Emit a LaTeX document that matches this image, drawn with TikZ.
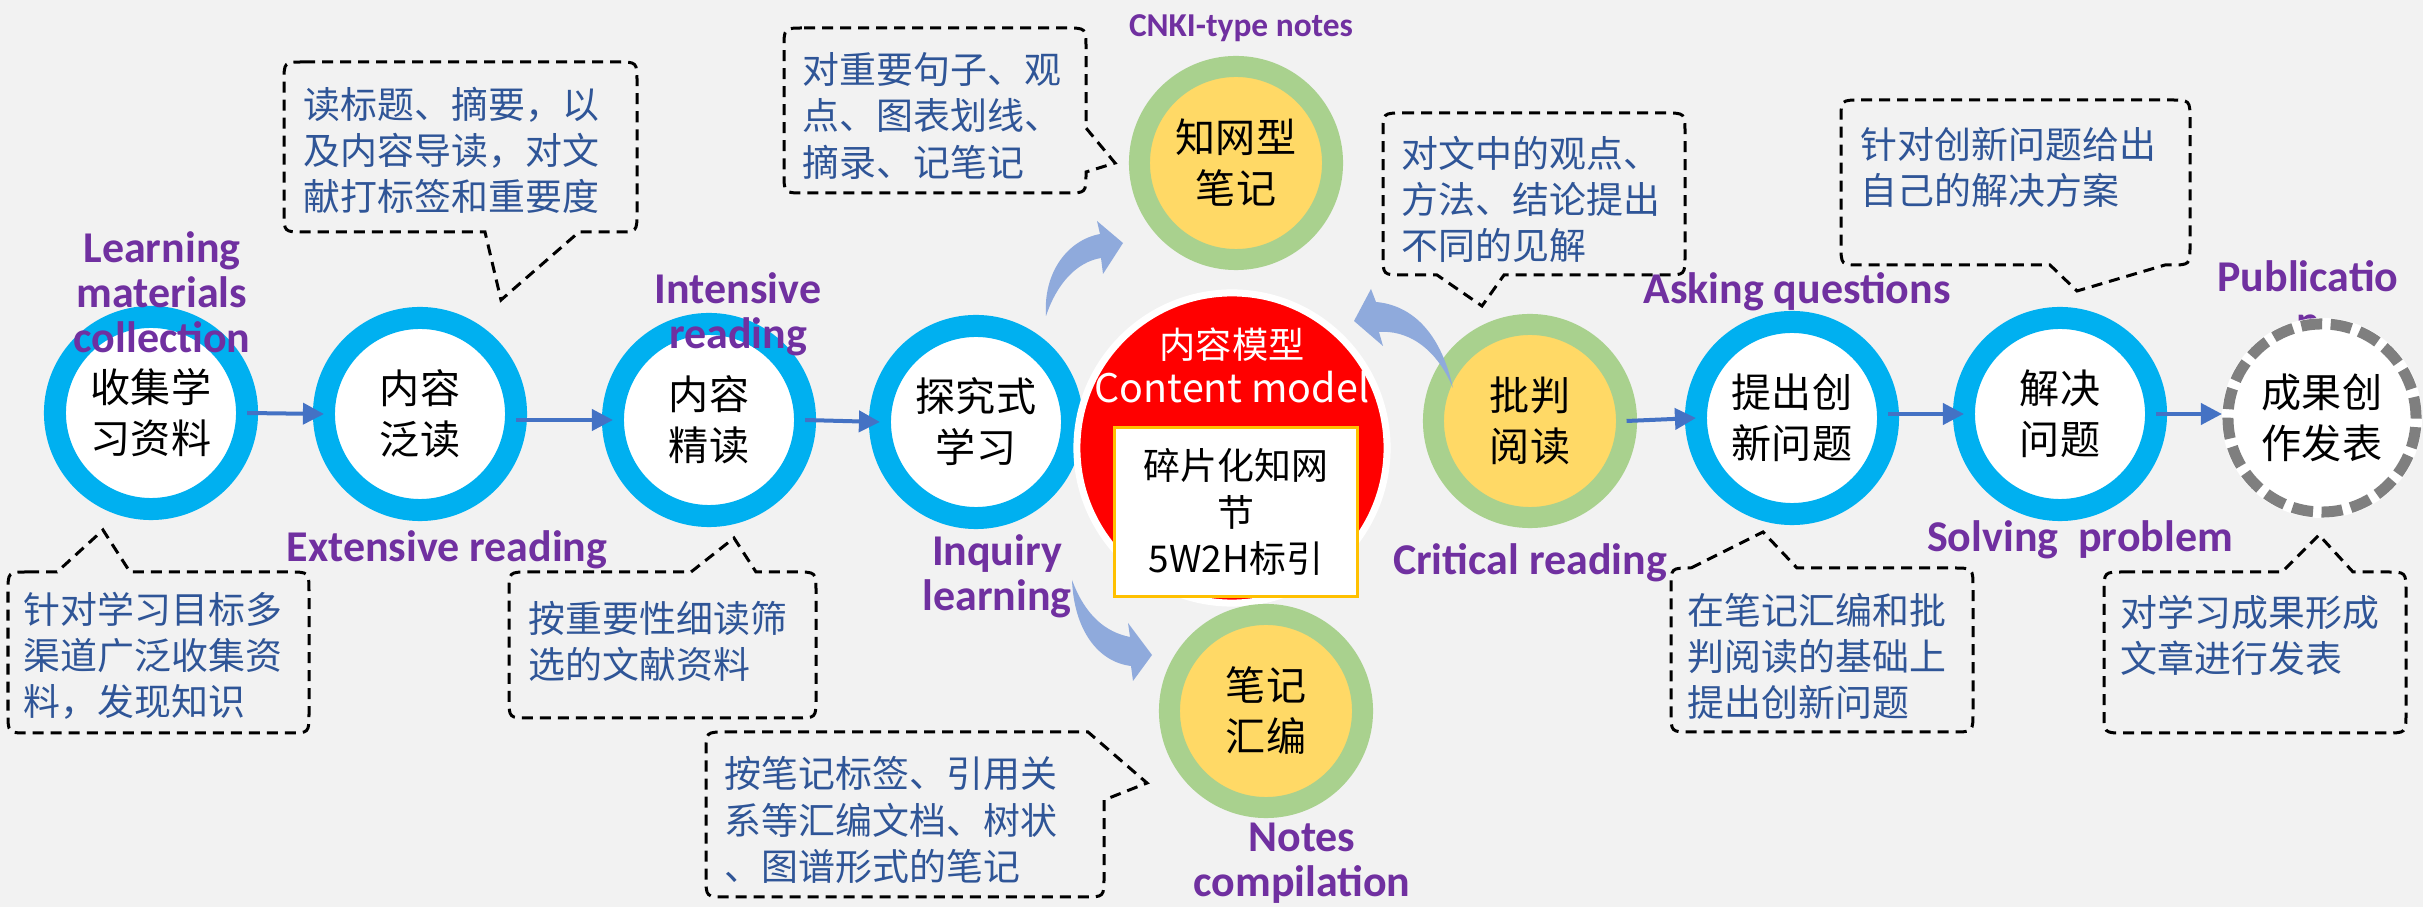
\documentclass[tikz,border=0pt]{standalone}
\usepackage{fontspec}
\setmainfont{Noto Sans CJK SC}
\newfontfamily\labfamily{Carlito}
\usetikzlibrary{arrows.meta}
\definecolor{bg}{HTML}{F2F2F2}
\definecolor{ringblue}{HTML}{00B0F0}
\definecolor{ringgreen}{HTML}{A9D18E}
\definecolor{fillyellow}{HTML}{FFD966}
\definecolor{labpurple}{HTML}{7030A0}
\definecolor{txtblue}{HTML}{2F5597}
\definecolor{arrowblue}{HTML}{4472C4}
\definecolor{curvblue}{HTML}{8FAADC}
\definecolor{boxorange}{HTML}{FFC000}
\definecolor{ringgray}{HTML}{7F7F7F}
\newcommand\circtxt{\fontsize{11.4}{14.5}\selectfont}
\newcommand\calltxt{\fontsize{10.5}{13.1}\selectfont}
\newcommand\labtxt{\labfamily\bfseries\fontsize{12.5}{12.8}\selectfont}
\begin{document}
\begin{tikzpicture}[x=0.01cm,y=-0.01cm,
  ring/.style={circle, draw=ringblue, line width=0.22cm, fill=white, minimum size=1.92cm, inner sep=0pt, outer sep=0pt, font=\circtxt, align=center},
  notering/.style={circle, draw=ringgreen, line width=0.21cm, fill=fillyellow, minimum size=1.93cm, inner sep=0pt, outer sep=0pt, font=\circtxt, align=center},
  flow/.style={draw=arrowblue, line width=0.04cm, -{Triangle[length=0.21cm,width=0.21cm]}},
  callout/.style={draw=black, line width=0.03cm, dash pattern=on 0.11cm off 0.07cm},
  ctext/.style={anchor=west, align=left, text=txtblue, font=\calltxt, inner sep=0pt},
  plab/.style={text=labpurple, font=\labtxt, align=center, inner sep=0pt},
  curvearrow/.style={fill=curvblue, draw=none}]
\fill[bg] (0,0) rectangle (2423,907);
\useasboundingbox (0,0) rectangle (2423,907);

% callout outlines
\draw[callout] (304,62) -- (617,62) .. controls (637,62) .. (637,82) -- (637,212) .. controls (637,232) .. (617,232) -- (579,232) -- (501,300) -- (485,232) -- (304,232) .. controls (284,232) .. (284,212) -- (284,82) .. controls (284,62) .. (304,62) -- cycle;
\draw[callout] (804,28) -- (1066,28) .. controls (1086,28) .. (1086,48) -- (1086,128) -- (1115,163) -- (1086,172) -- (1086,173) .. controls (1086,193) .. (1066,193) -- (804,193) .. controls (784,193) .. (784,173) -- (784,48) .. controls (784,28) .. (804,28) -- cycle;
\draw[callout] (1403,113) -- (1665,113) .. controls (1685,113) .. (1685,133) -- (1685,255) .. controls (1685,275) .. (1665,275) -- (1504,275) -- (1482,306) -- (1437,275) -- (1403,275) .. controls (1383,275) .. (1383,255) -- (1383,133) .. controls (1383,113) .. (1403,113) -- cycle;
\draw[callout] (1861,100) -- (2170,100) .. controls (2190,100) .. (2190,120) -- (2190,245) .. controls (2190,265) .. (2170,265) -- (2165,265) -- (2077,291) -- (2050,265) -- (1861,265) .. controls (1841,265) .. (1841,245) -- (1841,120) .. controls (1841,100) .. (1861,100) -- cycle;
\draw[callout] (28,572) -- (57,572) -- (103,530) -- (130,572) -- (289,572) .. controls (309,572) .. (309,592) -- (309,713) .. controls (309,733) .. (289,733) -- (28,733) .. controls (8,733) .. (8,713) -- (8,592) .. controls (8,572) .. (28,572) -- cycle;
\draw[callout] (529,572) -- (691,572) -- (734,538) -- (756,572) -- (796,572) .. controls (816,572) .. (816,592) -- (816,698) .. controls (816,718) .. (796,718) -- (529,718) .. controls (509,718) .. (509,698) -- (509,592) .. controls (509,572) .. (529,572) -- cycle;
\draw[callout] (726,732) -- (1088,732) -- (1147,783) -- (1104,800) -- (1104,877) .. controls (1104,897) .. (1084,897) -- (726,897) .. controls (706,897) .. (706,877) -- (706,752) .. controls (706,732) .. (726,732) -- cycle;
\draw[callout] (1691,568) -- (1763,532) -- (1797,568) -- (1953,568) .. controls (1973,568) .. (1973,588) -- (1973,712) .. controls (1973,732) .. (1953,732) -- (1691,732) .. controls (1671,732) .. (1671,712) -- (1671,588) .. controls (1671,568) .. (1691,568) -- cycle;
\draw[callout] (2124,572) -- (2282,572) -- (2319,535) -- (2353,572) -- (2386,572) .. controls (2406,572) .. (2406,592) -- (2406,713) .. controls (2406,733) .. (2386,733) -- (2124,733) .. controls (2104,733) .. (2104,713) -- (2104,592) .. controls (2104,572) .. (2124,572) -- cycle;

% label partly hidden by the last circle
\node[plab] (lpub) at (2308,299) {Publicatio\\n};

% main circles
\node[ring] (c1) at (151,413) {收集学\\习资料};
\node[ring] (c2) at (420,414) {内容\\泛读};
\node[ring] (c3) at (709,420) {内容\\精读};
\node[ring] (c4) at (976,422) {探究式\\学习};
\node[circle, fill=red, draw=white, line width=0.07cm, minimum size=3.10cm, inner sep=0pt] (cm) at (1232,448) {};
\node[text=white, font=\fontsize{10.3}{12}\selectfont, inner sep=0pt] (cmt1) at (1232,345) {内容模型};
\node[text=white, font=\fontsize{11.2}{13}\selectfont, inner sep=0pt] (cmt2) at (1232,387) {Content model};
\node[draw=boxorange, line width=0.03cm, fill=white, minimum width=2.43cm, minimum height=1.69cm, inner sep=0pt, align=center, font=\fontsize{10.5}{13.1}\selectfont] (frag) at (1236,512) {碎片化知网\\节\\5W2H标引};
\node[notering] (n1) at (1236,163) {知网型\\笔记};
\node[notering] (n2) at (1266,711) {笔记\\汇编};
\node[notering] (cr) at (1530,421) {批判\\阅读};
\node[ring] (c5) at (1792,418) {提出创\\新问题};
\node[ring] (c6) at (2060,414) {解决\\问题};
\node[circle, fill=white, minimum size=2.0cm, inner sep=0pt, outer sep=0pt, font=\circtxt, align=center] (c7) at (2322,418) {成果创\\作发表};
\draw[draw=ringgray, line width=0.11cm, dash pattern=on 0.21cm off 0.085cm] (c7.center) circle[radius=0.94cm];

% straight flow arrows
\draw[flow] (c1.east) -- (c2.west);
\draw[flow] (c2.east |- c3.west) -- (c3.west);
\draw[flow] (c3.east) -- (c4.west);
\draw[flow] (cr.east) -- (c5.west);
\draw[flow] (c5.east |- c6.west) -- (c6.west);
\draw[flow] (c6.east) -- (c6.east -| c7.west);

% curved block arrows
\fill[curvearrow] (1046,316) .. controls (1043,272) and (1068,240) .. (1100,234) -- (1097,221) -- (1123,243) -- (1103,274) -- (1101,258) .. controls (1077,262) and (1057,283) .. (1046,316) -- cycle;
\fill[curvearrow] (1072,580) .. controls (1085,615) and (1105,632) .. (1130,637) -- (1128,623) -- (1152,655) -- (1133,681) -- (1131,666) .. controls (1098,662) and (1074,630) .. (1072,580) -- cycle;
\fill[curvearrow] (1453,388) .. controls (1440,330) and (1410,305) .. (1376,302) -- (1371,289) -- (1354,321) -- (1383,346) -- (1379,332) .. controls (1405,330) and (1435,345) .. (1453,388) -- cycle;

% purple labels
\node[plab] (l1) at (162,292) {Learning\\materials\\collection};
\node[plab] (l2) at (447,550) {Extensive reading};
\node[plab] (l3) at (738,314) {Intensive\\reading};
\node[plab] (l4) at (997,576) {Inquiry\\learning};
\node[plab, font=\labfamily\bfseries\fontsize{9.5}{11}\selectfont] (l5) at (1241,28) {CNKI-type notes};
\node[plab] (l6) at (1302,863) {Notes\\compilation};
\node[plab] (l7) at (1530,563) {Critical reading};
\node[plab] (l8) at (1797,292) {Asking questions};
\node[plab] (l9) at (2080,540) {Solving\ \ problem};

% callout texts
\node[ctext] (t1) at (303,150) {读标题、摘要，以\\及内容导读，对文\\献打标签和重要度};
\node[ctext] (t2) at (802,116) {对重要句子、观\\点、图表划线、\\摘录、记笔记};
\node[ctext] (t3) at (1401,199) {对文中的观点、\\方法、结论提出\\不同的见解};
\node[ctext] (t4) at (1860,167) {针对创新问题给出\\自己的解决方案};
\node[ctext] (t5) at (23,656) {针对学习目标多\\渠道广泛收集资\\料，发现知识};
\node[ctext] (t6) at (528,641) {按重要性细读筛\\选的文献资料};
\node[ctext] (t7) at (724,820) {按笔记标签、引用关\\系等汇编文档、树状\\、图谱形式的笔记};
\node[ctext] (t8) at (1687,656) {在笔记汇编和批\\判阅读的基础上\\提出创新问题};
\node[ctext] (t9) at (2120,635) {对学习成果形成\\文章进行发表};
\end{tikzpicture}
\end{document}
